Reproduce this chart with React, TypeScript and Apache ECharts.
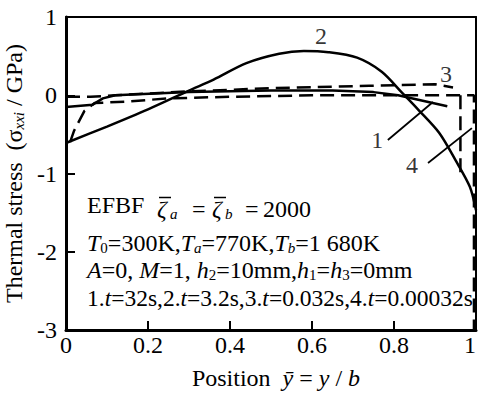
import React, { useEffect, useRef } from 'react';
import * as echarts from 'echarts';

const FONT = '"Liberation Serif", "Times New Roman", "DejaVu Serif", serif';
const FS = 24;

// x positions (ȳ) and stresses (GPa)
const curve1: [number, number][] = [
  [0, -0.15], [0.065, -0.12], [0.09, -0.04], [0.12, 0.0], [0.3, 0.04], [0.5, 0.06],
  [0.65, 0.06], [0.75, 0.04], [0.81, 0.0], [0.87, -0.07], [0.93, -0.14],
];
const curve2: [number, number][] = [
  [0, -0.61], [0.1, -0.4], [0.2, -0.18], [0.3, 0.06], [0.36, 0.2], [0.44, 0.41],
  [0.52, 0.53], [0.58, 0.565], [0.64, 0.55], [0.71, 0.48], [0.77, 0.3], [0.82, 0.03],
  [0.86, -0.19], [0.91, -0.48], [0.95, -0.83], [0.985, -1.17], [1.0, -1.47],
];
const curve3: [number, number][] = [
  [0, -0.02], [0.06, -0.02], [0.12, 0.0], [0.3, 0.05], [0.5, 0.09], [0.74, 0.12],
  [0.9, 0.14], [0.944, 0.1],
];
const curve4: [number, number][] = [
  [0.01, -0.6], [0.02, -0.45], [0.045, -0.2], [0.07, -0.1], [0.15, -0.08], [0.25, -0.04],
  [0.4, -0.02], [0.6, 0.0], [0.8, 0.0], [0.962, 0.0], [0.995, 0.0], [0.995, -3.0],
];
const curve4Drop: [number, number][] = [[0.962, 0.0], [0.962, -1.05]];

const leader1: [number, number][] = [[0.785, -0.572], [0.895, -0.086]];
const leader4: [number, number][] = [[0.883, -0.866], [0.99, -0.42]];
const curveLabels = [
  { name: '1', value: [0.759, -0.57] },
  { name: '2', value: [0.622, 0.757] },
  { name: '3', value: [0.927, 0.27] },
  { name: '4', value: [0.844, -0.89] },
];

const zetaValue = '2000';
const noteLines = [
  '{i|T}{n|0}=300K,{i|T}{s|a}=770K,{i|T}{s|b}=1 680K',
  '{i|A}=0, {i|M}=1, {i|h}{n|2}=10mm,{i|h}{n|1}={i|h}{n|3}=0mm',
  '1.{i|t}=32s,2.{i|t}=3.2s,3.{i|t}=0.032s,4.{i|t}=0.00032s',
];
const noteY = [243, 270, 298];
const noteSize = [24, 24, 23.5];

const base = { fontSize: FS, fontFamily: FONT };
const mkRich = (fs: number) => ({
  i: { fontSize: fs, fontFamily: FONT, fontStyle: 'italic', fill: '#000' },
  s: { fontSize: 15, fontFamily: FONT, fontStyle: 'italic', padding: [10, 0, 0, 0], fill: '#000' },
  n: { fontSize: 15, fontFamily: FONT, padding: [10, 0, 0, 0], fill: '#000' },
});
const eqRich = {
  z: { ...base, fontStyle: 'italic', fill: '#000', width: 13 },
  sa: { fontSize: 15, fontFamily: FONT, fontStyle: 'italic', padding: [10, 0, 0, 0], fill: '#000', width: 22 },
  sb: { fontSize: 15, fontFamily: FONT, fontStyle: 'italic', padding: [10, 0, 0, 0], fill: '#000', width: 20 },
  e1: { ...base, fill: '#000', width: 20 },
  e2: { ...base, fill: '#000', width: 18 },
  t: { ...base, fill: '#000' },
};

const lineSeries = (data: [number, number][], dashed: boolean, smooth: number | boolean = false) => ({
  type: 'line',
  data,
  symbol: 'none',
  smooth,
  silent: true,
  lineStyle: { color: '#000', width: 2.5, type: dashed ? [14, 7] : 'solid' },
});

export default function App() {
  const ref = useRef<HTMLDivElement>(null);
  useEffect(() => {
    const chart = echarts.init(ref.current!, null, { renderer: 'svg' });
    chart.setOption({
      animation: false,
      backgroundColor: '#fff',
      textStyle: { fontFamily: FONT },
      grid: { left: 66, right: 2, top: 17, bottom: 64, outerBoundsMode: 'none', containLabel: false },
      xAxis: [
        {
          type: 'value', min: 0, max: 1, interval: 0.2, position: 'bottom',
          axisLine: { show: true, onZero: false, lineStyle: { color: '#000', width: 3 } },
          axisTick: { show: true, inside: true, length: 9, lineStyle: { color: '#000', width: 2 } },
          axisLabel: { fontSize: FS, fontFamily: FONT, color: '#000', margin: 3, alignMaxLabel: 'right' },
          splitLine: { show: false },
          name: '{n|Position}  {i|ȳ}{n| = }{i|y}{n| / }{i|b}',
          nameLocation: 'middle', nameGap: 36,
          nameTextStyle: {
            ...base, color: '#000', padding: [0, 0, 0, 10],
            rich: { n: { ...base, color: '#000' }, i: { ...base, fontStyle: 'italic', color: '#000' } },
          },
        },
        {
          type: 'value', min: 0, max: 1, position: 'top',
          axisLine: { show: true, onZero: false, lineStyle: { color: '#000', width: 2 } },
          axisTick: { show: false }, axisLabel: { show: false }, splitLine: { show: false },
        },
      ],
      yAxis: [
        {
          type: 'value', min: -3, max: 1, interval: 1, position: 'left',
          axisLine: { show: true, onZero: false, lineStyle: { color: '#000', width: 3 } },
          axisTick: { show: true, inside: true, length: 9, lineStyle: { color: '#000', width: 2 } },
          axisLabel: { fontSize: FS, fontFamily: FONT, color: '#000', margin: 9 },
          splitLine: { show: false },
          name: '{n|Thermal stress  (σ}{s|xxi}{n| / GPa)}',
          nameLocation: 'middle', nameGap: 36, nameRotate: 90,
          nameTextStyle: {
            ...base, color: '#000',
            rich: {
              n: { ...base, color: '#000' },
              s: { fontSize: 15, fontFamily: FONT, fontStyle: 'italic', padding: [10, 0, 0, 0], color: '#000' },
            },
          },
        },
        {
          type: 'value', min: -3, max: 1, position: 'right',
          axisLine: { show: true, onZero: false, lineStyle: { color: '#000', width: 2 } },
          axisTick: { show: false }, axisLabel: { show: false }, splitLine: { show: false },
        },
      ],
      series: [
        lineSeries(curve1, false),
        lineSeries(curve2, false, 0.3),
        lineSeries(curve3, true),
        lineSeries(curve4, true),
        lineSeries(curve4Drop, true),
        { type: 'line', data: leader1, symbol: 'none', silent: true, lineStyle: { color: '#000', width: 1.8 } },
        { type: 'line', data: leader4, symbol: 'none', silent: true, lineStyle: { color: '#000', width: 1.8 } },
        {
          type: 'scatter', data: curveLabels, symbolSize: 0, silent: true,
          label: { show: true, position: 'inside', formatter: '{b}', fontSize: FS, fontFamily: FONT, color: '#000' },
        },
      ],
      graphic: [
        {
          type: 'text', x: 87, y: 205, silent: true,
          style: { text: 'EFBF', ...base, fill: '#000', align: 'left', verticalAlign: 'middle' },
        },
        {
          type: 'text', x: 157, y: 209, silent: true,
          style: {
            text: `{z|ζ}{sa|a}{e1|=}{z|ζ}{sb|b}{e2|=}{t|${zetaValue}}`,
            ...base, fill: '#000', align: 'left', verticalAlign: 'middle', rich: eqRich,
          },
        },
        { type: 'line', silent: true, shape: { x1: 159, y1: 197.5, x2: 171, y2: 197.5 }, style: { stroke: '#000', lineWidth: 1.5 } },
        { type: 'line', silent: true, shape: { x1: 214, y1: 197.5, x2: 226, y2: 197.5 }, style: { stroke: '#000', lineWidth: 1.5 } },
        ...noteLines.map((t, k) => ({
          type: 'text', x: 87, y: noteY[k], silent: true,
          style: {
            text: t, fontSize: noteSize[k], fontFamily: FONT, fill: '#000',
            align: 'left', verticalAlign: 'middle', rich: mkRich(noteSize[k]),
          },
        })),
      ],
    });
    return () => chart.dispose();
  }, []);
  return <div ref={ref} style={{ position: 'fixed', left: 0, top: 0, width: 478, height: 394 }} />;
}
